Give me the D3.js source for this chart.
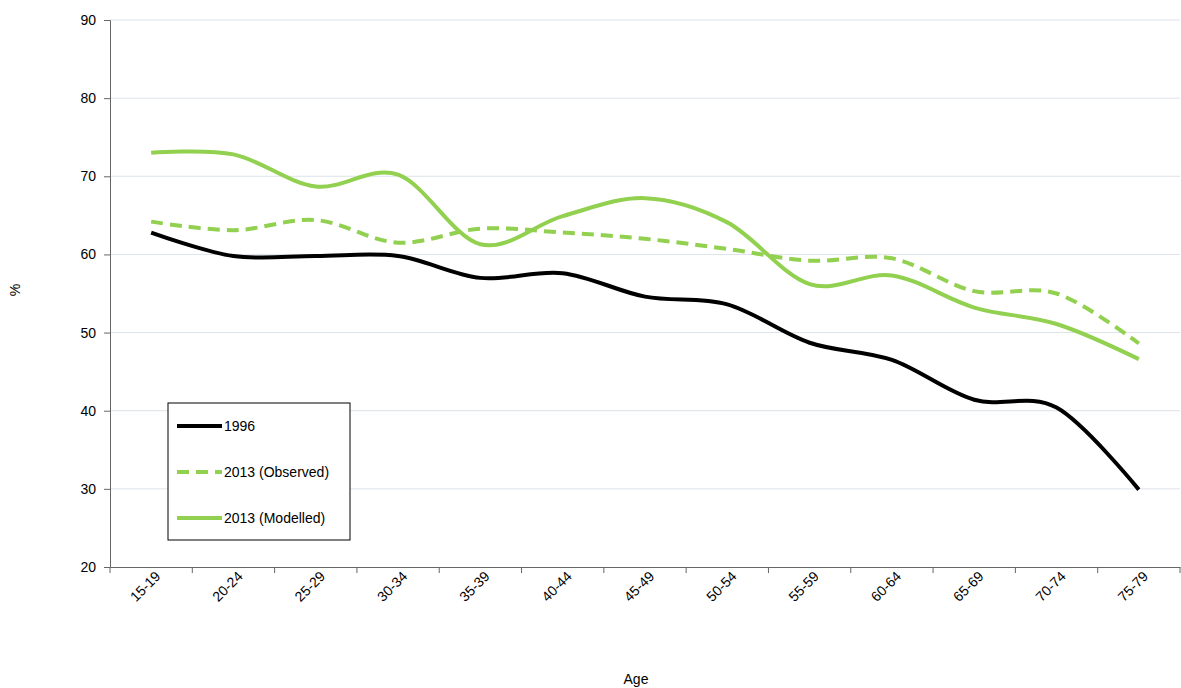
<!DOCTYPE html>
<html><head><meta charset="utf-8">
<script src="https://cdn.jsdelivr.net/npm/d3@7"></script>
<style>body{margin:0;background:#fff;font-family:"Liberation Sans",Arial,sans-serif}</style>
</head><body><svg id="c" width="1181" height="688"></svg>
<script>
const categories=["15-19","20-24","25-29","30-34","35-39","40-44","45-49","50-54","55-59","60-64","65-69","70-74","75-79"];
const s1996=[62.8,59.8,59.8,59.8,57.0,57.6,54.6,53.6,48.7,46.5,41.4,40.4,29.9];
const sObs=[64.2,63.1,64.4,61.5,63.3,62.8,62.0,60.7,59.2,59.5,55.3,55.0,48.6];
const sMod=[73.0,72.8,68.7,70.2,61.3,64.9,67.2,64.1,56.2,57.3,53.2,51.1,46.6];
const yTicks=[20,30,40,50,60,70,80,90];
const svg=d3.select("#c");
const L=110,R=1180,T=20,B=567;
const x=d3.scaleBand().domain(categories).range([L,R]);
const y=d3.scaleLinear().domain([20,90]).range([B,T]);
svg.append("g").selectAll("line").data(yTicks.slice(1)).join("line")
 .attr("x1",L).attr("x2",R).attr("y1",d=>y(d)).attr("y2",d=>y(d)).attr("stroke","#dde3ea");
const ya=svg.append("g").attr("transform",`translate(${L},0)`).call(d3.axisLeft(y).tickValues(yTicks).tickSize(6).tickPadding(8));
ya.selectAll("text").attr("font-size",14).attr("fill","#000").attr("font-family","Liberation Sans, Arial");
ya.selectAll("line,path").attr("stroke","#666");
const xa=svg.append("g").attr("transform",`translate(0,${B})`).call(d3.axisBottom(x).tickSize(0).tickPadding(10));
xa.select("path").attr("stroke","#666");
xa.selectAll("text").attr("font-size",14).attr("fill","#000").attr("font-family","Liberation Sans, Arial")
 .attr("text-anchor","end").attr("transform","rotate(-45) translate(0,-4)").attr("dx","0").attr("dy","0.6em");
svg.append("g").selectAll("line").data(d3.range(categories.length+1)).join("line")
 .attr("x1",i=>L+i*x.step()).attr("x2",i=>L+i*x.step()).attr("y1",B).attr("y2",B+6).attr("stroke","#666");
const line=d3.line().x((d,i)=>x(categories[i])+x.bandwidth()/2).y(d=>y(d)).curve(d3.curveCatmullRom.alpha(0));
const series=[{v:s1996,c:"#000",dash:null,name:"1996"},{v:sObs,c:"#92d050",dash:"12,7",name:"2013 (Observed)"},{v:sMod,c:"#92d050",dash:null,name:"2013 (Modelled)"}];
series.forEach(s=>svg.append("path").attr("d",line(s.v)).attr("fill","none").attr("stroke",s.c).attr("stroke-width",4).attr("stroke-dasharray",s.dash));
svg.append("rect").attr("x",168).attr("y",403).attr("width",182).attr("height",137).attr("fill","#fff").attr("stroke","#000");
series.forEach((s,i)=>{const yy=426+i*46;
 svg.append("line").attr("x1",177).attr("x2",222).attr("y1",yy).attr("y2",yy).attr("stroke",s.c).attr("stroke-width",4).attr("stroke-dasharray",s.dash);
 svg.append("text").attr("x",224).attr("y",yy+5).attr("font-size",14).text(s.name);});
svg.append("text").attr("x",20).attr("y",290).attr("font-size",14).attr("text-anchor","middle").attr("transform","rotate(-90,20,290)").text("%");
svg.append("text").attr("x",636).attr("y",684).attr("font-size",14).attr("text-anchor","middle").text("Age");
</script></body></html>
